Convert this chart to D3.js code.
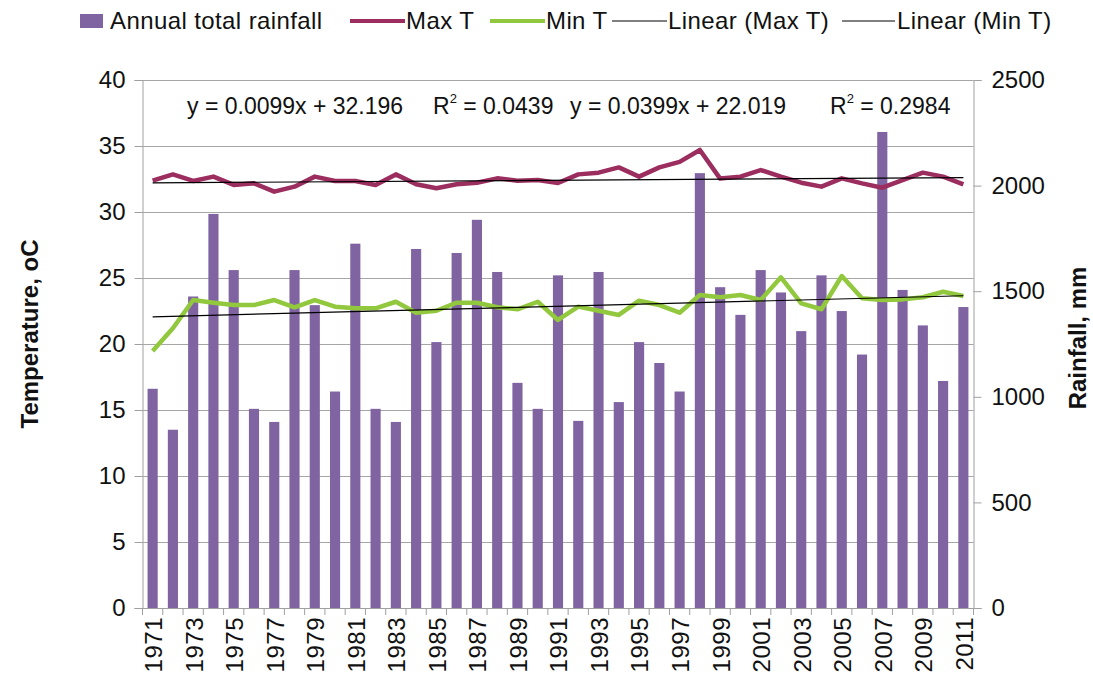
<!DOCTYPE html>
<html>
<head>
<meta charset="utf-8">
<script src="https://cdn.jsdelivr.net/npm/d3@7/dist/d3.min.js"></script>
<style>
  html, body { margin: 0; padding: 0; background: #fff; }
  svg { display: block; font-family: "Liberation Sans", Arial, Helvetica, sans-serif; }
</style>
</head>
<body>
<svg id="chart" width="1093" height="676"></svg>
<script>
// ---------- DATA ----------
const years = [1971,1972,1973,1974,1975,1976,1977,1978,1979,1980,
               1981,1982,1983,1984,1985,1986,1987,1988,1989,1990,
               1991,1992,1993,1994,1995,1996,1997,1998,1999,2000,
               2001,2002,2003,2004,2005,2006,2007,2008,2009,2010,2011];

const rainfall = [1038,844,1475,1866,1600,943,881,1600,1434,1025,
                  1725,943,881,1700,1259,1681,1838,1591,1066,943,
                  1575,886,1591,975,1259,1160,1025,2059,1519,1388,
                  1600,1494,1311,1575,1406,1200,2254,1506,1338,1075,1425];

const maxT = [32.37,32.85,32.35,32.68,32.05,32.17,31.54,31.92,32.68,32.35,
              32.35,32.05,32.85,32.10,31.80,32.10,32.22,32.55,32.37,32.42,
              32.20,32.85,32.98,33.38,32.68,33.38,33.80,34.70,32.53,32.68,
              33.18,32.68,32.22,31.92,32.55,32.17,31.84,32.42,32.98,32.68,32.10];

const minT = [19.47,21.19,23.33,23.13,22.95,22.95,23.33,22.78,23.33,22.83,
              22.70,22.70,23.20,22.37,22.52,23.13,23.13,22.78,22.63,23.20,
              21.82,22.83,22.52,22.20,23.28,22.95,22.37,23.71,23.54,23.71,
              23.33,25.05,23.08,22.63,25.15,23.46,23.33,23.38,23.54,23.96,23.64];

// trendline coefficients shown on the chart (x = 1..41)
const trendSlope = [0.0099, 0.0399];
const trendIntercept = [32.196, 22.019];
const trendR2 = ["0.0439", "0.2984"];

const leftTicks = [0,5,10,15,20,25,30,35,40];
const rightTicks = [0,500,1000,1500,2000,2500];

const legendLabels = ["Annual total rainfall","Max T","Min T","Linear (Max T)","Linear (Min T)"];

// ---------- LAYOUT ----------
const colBar = "#8064A2", colMax = "#9B2D5F", colMin = "#92C83E";
const L = 142.5, R = 973.5, T = 80, B = 608;

const svg = d3.select("#chart");

const x = d3.scaleBand().domain(years).range([L, R]).paddingInner(0.5).paddingOuter(0.25);
const yL = d3.scaleLinear().domain([0,40]).range([B, T]);
const yR = d3.scaleLinear().domain([0,2500]).range([B, T]);
const cx = d => x(d) + x.bandwidth()/2;

// gridlines
svg.append("g").selectAll("line").data(leftTicks).join("line")
  .attr("x1", L).attr("x2", R)
  .attr("y1", d => Math.round(yL(d)) + 0.5).attr("y2", d => Math.round(yL(d)) + 0.5)
  .attr("stroke", "#A6A6A6").attr("stroke-width", 1);

// bars
svg.append("g").selectAll("rect").data(years).join("rect")
  .attr("x", d => x(d)).attr("width", x.bandwidth())
  .attr("y", (d,i) => yR(rainfall[i]))
  .attr("height", (d,i) => B - yR(rainfall[i]))
  .attr("fill", colBar);

// lines
const line = d3.line().x((d,i) => cx(years[i])).y(d => yL(d));
svg.append("path").datum(maxT).attr("d", line)
  .attr("fill","none").attr("stroke", colMax).attr("stroke-width", 4.5).attr("stroke-linejoin","round");
svg.append("path").datum(minT).attr("d", line)
  .attr("fill","none").attr("stroke", colMin).attr("stroke-width", 4.5).attr("stroke-linejoin","round");

// trendlines
trendSlope.forEach((m, k) => {
  const n = years.length;
  svg.append("line")
    .attr("x1", cx(years[0])).attr("x2", cx(years[n-1]))
    .attr("y1", yL(m*1 + trendIntercept[k]))
    .attr("y2", yL(m*n + trendIntercept[k]))
    .attr("stroke", "#000").attr("stroke-width", 1.2);
});

// axes
const axL = svg.append("g").attr("transform", `translate(${L},0)`)
  .call(d3.axisLeft(yL).tickValues(leftTicks).tickSize(8).tickPadding(9).tickFormat(d3.format("d")));
const axR = svg.append("g").attr("transform", `translate(${R},0)`)
  .call(d3.axisRight(yR).tickValues(rightTicks).tickSize(8).tickPadding(10).tickFormat(d3.format("d")));
[axL, axR].forEach(g => {
  g.select(".domain").attr("stroke", "#A0A0A0");
  g.selectAll(".tick line").attr("stroke", "#A0A0A0");
  g.selectAll(".tick text").attr("font-size", 24).attr("fill", "#111")
    .attr("font-family", "'Liberation Sans', Arial, sans-serif");
});

// x axis
const boundaries = d3.range(years.length + 1).map(i => L + i * x.step());
svg.append("line").attr("x1", L).attr("x2", R).attr("y1", B+0.5).attr("y2", B+0.5).attr("stroke", "#A0A0A0");
svg.append("g").selectAll("line").data(boundaries).join("line")
  .attr("x1", d => d).attr("x2", d => d).attr("y1", B).attr("y2", B + 7)
  .attr("stroke", "#A0A0A0");
svg.append("g").selectAll("text").data(years.filter((d,i) => i % 2 === 0)).join("text")
  .attr("transform", d => `translate(${cx(d)+1},617) rotate(-90)`)
  .attr("text-anchor", "end").attr("dy", "0.35em")
  .attr("font-size", 24).attr("letter-spacing", 0.5).attr("fill", "#111")
  .text(d => d);

// axis titles
svg.append("text").attr("transform", "translate(30,334) rotate(-90)")
  .attr("text-anchor", "middle").attr("dy", "0.35em")
  .attr("font-size", 24).attr("font-weight", "bold").attr("fill", "#111")
  .text("Temperature, oC");
svg.append("text").attr("transform", "translate(1078,338) rotate(-90)")
  .attr("text-anchor", "middle").attr("dy", "0.35em")
  .attr("font-size", 24).attr("font-weight", "bold").attr("fill", "#111")
  .text("Rainfall, mm");

// equations
const eqX = [[187, 433], [570, 830]];
trendSlope.forEach((m, k) => {
  svg.append("text").attr("x", eqX[k][0]).attr("y", 114)
    .attr("font-size", 23).attr("fill", "#111")
    .text(`y = ${m.toFixed(4)}x + ${trendIntercept[k].toFixed(3)}`);
  const t = svg.append("text").attr("x", eqX[k][1]).attr("y", 114)
    .attr("font-size", 23).attr("fill", "#111");
  t.append("tspan").text("R");
  t.append("tspan").attr("font-size", 13).attr("dy", -11).text("2");
  t.append("tspan").attr("dy", 11).text(` = ${trendR2[k]}`);
});

// legend
const lg = svg.append("g").attr("font-size", 24).attr("letter-spacing", 0.4).attr("fill", "#111");
const legendY = 21;
const items = [
  {type:"rect", sx:80, ex:103, tx:110, color:colBar},
  {type:"line", sx:350, ex:405, tx:406, color:colMax, w:4},
  {type:"line", sx:490, ex:545, tx:546, color:colMin, w:4},
  {type:"line", sx:612, ex:667, tx:668, color:"#000", w:1},
  {type:"line", sx:842, ex:895, tx:897, color:"#000", w:1}
];
items.forEach((it, i) => {
  if (it.type === "rect") {
    lg.append("rect").attr("x", it.sx).attr("y", legendY - 7).attr("width", it.ex - it.sx).attr("height", 14).attr("fill", it.color);
  } else {
    lg.append("line").attr("x1", it.sx).attr("x2", it.ex).attr("y1", legendY).attr("y2", legendY)
      .attr("stroke", it.color).attr("stroke-width", it.w);
  }
  lg.append("text").attr("x", it.tx).attr("y", legendY).attr("dy", "0.35em").text(legendLabels[i]);
});
</script>
</body>
</html>
